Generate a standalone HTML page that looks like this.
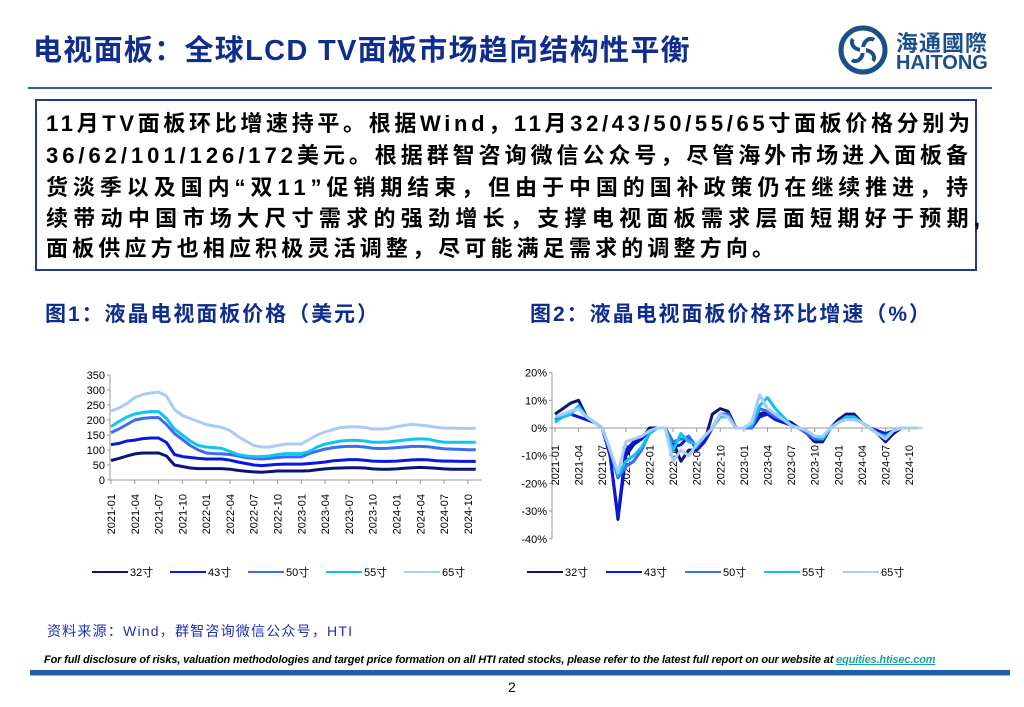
<!DOCTYPE html>
<html><head><meta charset="utf-8">
<style>
body{margin:0;width:1024px;height:707px;background:#fff;position:relative;overflow:hidden;font-family:"Liberation Sans","Noto Sans CJK SC",sans-serif}
.abs{position:absolute}
.title{left:33px;top:27px;font-size:29px;font-weight:bold;color:#0f2d8c;letter-spacing:1.3px;white-space:nowrap}
.box{left:35px;top:99px;width:942px;height:172px;border:2px solid #1f3a8a;box-sizing:border-box}
.ln{position:absolute;left:46px;font-size:22px;font-weight:bold;color:#000;white-space:nowrap;height:30px;line-height:30px}
.ft{font-size:21px;font-weight:bold;color:#0f2d8c;white-space:nowrap;top:298px}
</style></head><body>
<div class="abs title">电视面板：全球LCD TV面板市场趋向结构性平衡</div>
<div class="abs" style="left:28px;top:87px;width:964px;height:2px;background:#2461a8"></div>
<div class="abs" style="left:838px;top:24px;width:160px;height:54px">
<svg width="50" height="50" viewBox="0 0 50 50" style="position:absolute;left:0;top:1px">
<circle cx="25" cy="25" r="22" fill="none" stroke="#1a4f8a" stroke-width="5"/>
<g fill="none" stroke="#1a4f8a" stroke-width="4">
<path d="M25 25 C25 15 32 12 36 15"/><path d="M25 25 C35 25 38 32 35 36"/><path d="M25 25 C25 35 18 38 14 35"/><path d="M25 25 C15 25 12 18 15 14"/></g>
<rect x="22" y="22" width="6" height="6" fill="#fff"/></svg>
<div class="abs" style="left:58px;top:2px;font-size:22px;color:#1a4f8a;font-weight:bold;letter-spacing:1px">海通國際</div>
<div class="abs" style="left:58px;top:28px;font-size:20px;color:#1a4f8a;font-weight:bold">HAITONG</div>
</div>
<div class="abs box"></div>
<div class="ln fit" data-w="924" style="top:109px">11月TV面板环比增速持平。根据Wind，11月32/43/50/55/65寸面板价格分别为</div>
<div class="ln fit" data-w="922" style="top:141px">36/62/101/126/172美元。根据群智咨询微信公众号，尽管海外市场进入面板备</div>
<div class="ln fit" data-w="922" style="top:173px">货淡季以及国内“双11”促销期结束，但由于中国的国补政策仍在继续推进，持</div>
<div class="ln fit" data-w="934" style="top:204px">续带动中国市场大尺寸需求的强劲增长，支撑电视面板需求层面短期好于预期,</div>
<div class="ln fit" data-w="728" style="top:234px">面板供应方也相应积极灵活调整，尽可能满足需求的调整方向。</div>
<div class="abs ft fit" data-w="333" style="left:45px">图1：液晶电视面板价格（美元）</div>
<div class="abs ft fit" data-w="400" style="left:530px">图2：液晶电视面板价格环比增速（%）</div>
<svg class="abs" id="c1" style="left:0;top:0" width="512" height="600"></svg>
<svg class="abs" id="c2" style="left:0;top:0;" width="1024" height="600"></svg>
<div class="abs fit" data-w="305" style="left:47px;top:621px;font-size:14px;color:#2030b0;white-space:nowrap">资料来源：Wind，群智咨询微信公众号，HTI</div>
<div class="abs" style="left:44px;top:654px;font-size:11px;font-style:italic;font-weight:bold;color:#000;white-space:nowrap;letter-spacing:-0.15px">For full disclosure of risks, valuation methodologies and target price formation on all HTI rated stocks, please refer to the latest full report on our website at <span style="color:#1aa0a0;text-decoration:underline">equities.htisec.com</span></div>
<div class="abs" style="left:30px;top:670px;width:980px;height:5px;background:#1f5fa8;border-bottom:1px solid #9bb8e0"></div>
<div class="abs" style="left:508px;top:679px;font-size:14px">2</div>
<script>
document.querySelectorAll('.fit').forEach(el=>{
  const target=+el.getAttribute('data-w');
  const w=el.getBoundingClientRect().width;
  const n=el.textContent.length;
  if(n>1) el.style.letterSpacing=((target-w)/(n-1))+'px';
});
const names=["32寸","43寸","50寸","55寸","65寸"];
const colors=["#0a1478","#0818e0","#3c6cf0","#10c4f0","#a8ccf8"];
const xTicks=["2021-01","2021-04","2021-07","2021-10","2022-01","2022-04","2022-07","2022-10","2023-01","2023-04","2023-07","2023-10","2024-01","2024-04","2024-07","2024-10"];
const p32=[65,72,80,87,90,90,90,80,50,45,40,38,38,38,38,36,32,29,27,26,28,30,30,30,30,31,34,37,39,40,41,41,40,37,36,36,37,39,41,42,41,39,37,36,36,36,36];
const p43=[118,122,130,133,138,140,140,125,85,78,75,72,70,70,70,66,60,55,50,48,50,52,53,53,53,55,57,60,64,66,68,68,66,63,62,62,63,65,67,68,67,64,63,63,62,62,62];
const p50=[158,170,185,200,205,208,208,185,155,135,115,100,90,88,87,85,80,75,72,70,72,75,77,77,77,88,96,103,108,111,112,112,110,106,105,106,108,110,112,112,111,107,104,103,102,101,101];
const p55=[178,195,210,220,225,228,228,205,170,150,130,115,110,108,105,95,85,80,78,78,80,85,88,88,88,95,110,120,125,130,132,132,130,126,126,127,130,133,136,137,136,130,126,126,126,126,126];
const p65=[230,240,255,275,285,290,293,280,235,215,205,195,185,180,175,165,145,130,115,110,110,115,120,120,120,135,150,160,168,175,177,177,175,170,170,172,178,182,185,183,180,176,173,173,172,172,172];
const m32=[5,7,9,10,4,2,0,-10,-33,-10,-6,-4,0,0,0,-5,-12,-8,-8,-5,5,7,6,0,0,0,5,6,5,3,2,0,-2,-5,-5,0,3,5,5,2,0,-2,-5,-2,0,0,0];
const m43=[3,4,5,4,3,2,0,-10,-32,-8,-5,-4,-1,0,0,-7,-6,-3,-8,-5,0,5,5,0,0,0,4,5,3,2,1,0,-2,-4,-4,0,2,4,4,2,0,-1,-2,-1,0,0,0];
const m50=[3,5,6,7,4,2,0,-8,-18,-14,-12,-8,-2,0,0,-5,-4,-3,-7,-3,0,5,5,0,0,0,7,6,4,3,1,0,-2,-4,-4,0,2,4,4,2,0,-2,-3,-1,0,0,0];
const m55=[2,4,5,8,4,2,0,-8,-17,-12,-10,-7,-2,0,0,-8,-2,-5,-6,-3,0,4,4,0,0,1,8,11,7,4,1,0,-1,-3,-4,0,2,4,4,2,0,-2,-3,-1,0,0,0];
const m65=[4,5,6,7,4,2,0,-8,-16,-5,-4,-3,-1,0,0,-12,-8,-10,-6,-3,0,5,4,0,0,2,12,7,5,3,1,0,-1,-3,-3,0,2,3,3,2,0,-2,-4,-1,0,0,0];
const yTicks1=[0,50,100,150,200,250,300,350];
const yTicks2=[-40,-30,-20,-10,0,10,20];
const NS="http://www.w3.org/2000/svg";
function mk(svg,tag,attrs){const e=document.createElementNS(NS,tag);for(const k in attrs)e.setAttribute(k,attrs[k]);svg.appendChild(e);return e;}
function chart(svg,opt){
  const X=i=>opt.x0+i*opt.dx, Y=v=>opt.y0-(v-opt.vmin)*opt.sy;
  let ax=mk(svg,"line",{x1:opt.ax,x2:opt.ax,y1:Y(opt.yt[opt.yt.length-1]),y2:Y(opt.yt[0]),stroke:"#999","stroke-width":1});
  
  
  let bx=mk(svg,"line",{x1:opt.ax,x2:X(46)+6,y1:Y(opt.base),y2:Y(opt.base),stroke:"#999","stroke-width":1});
  
  
  opt.yt.forEach(v=>{
    mk(svg,"line",{x1:opt.ax-3,x2:opt.ax,y1:Y(v),y2:Y(v),stroke:"#999"});
    const t=mk(svg,"text",{x:opt.ax-5,y:Y(v)+4,"text-anchor":"end","font-size":11,fill:"#000","font-family":"Liberation Sans"});
    t.textContent=opt.fmt(v);
    
    
  });
  xTicks.forEach((s,k)=>{
    const x=X(k*3);
    mk(svg,"line",{x1:x,x2:x,y1:Y(opt.base),y2:Y(opt.base)+4,stroke:"#999"});
    const t=mk(svg,"text",{x:0,y:0,"text-anchor":"end","font-size":11,fill:"#000","font-family":"Liberation Sans",transform:`translate(${x+4},${opt.ly}) rotate(-90)`});
    t.textContent=s;
    
    
  });
  opt.series.forEach((d,si)=>{
    const p=mk(svg,"polyline",{points:d.map((v,i)=>X(i)+","+Y(v)).join(" "),fill:"none",stroke:colors[si],"stroke-width":3,"stroke-linejoin":"round"});
    
    
  });
  names.forEach((n,si)=>{
    const lx=opt.legx+si*opt.legdx;
    const l=mk(svg,"line",{x1:lx,x2:lx+36,y1:572,y2:572,stroke:colors[si],"stroke-width":2});
    
    
    const t=mk(svg,"text",{x:lx+38,y:576,"font-size":11,"font-family":"Liberation Sans, Noto Sans CJK SC, sans-serif",fill:"#000"});
    t.textContent=n;
    
    
  });
}
chart(document.getElementById('c1'),{x0:111,dx:7.93,y0:480,vmin:0,sy:0.3,ax:110,base:0,yt:yTicks1,fmt:v=>v,ly:494,series:[p32,p43,p50,p55,p65],legx:92,legdx:78});
chart(document.getElementById('c2'),{x0:555,dx:7.87,y0:428,vmin:0,sy:2.77,ax:552,base:0,yt:yTicks2,fmt:v=>v+"%",ly:445,series:[m32,m43,m50,m55,m65],legx:527,legdx:79});
</script>
</body></html>
